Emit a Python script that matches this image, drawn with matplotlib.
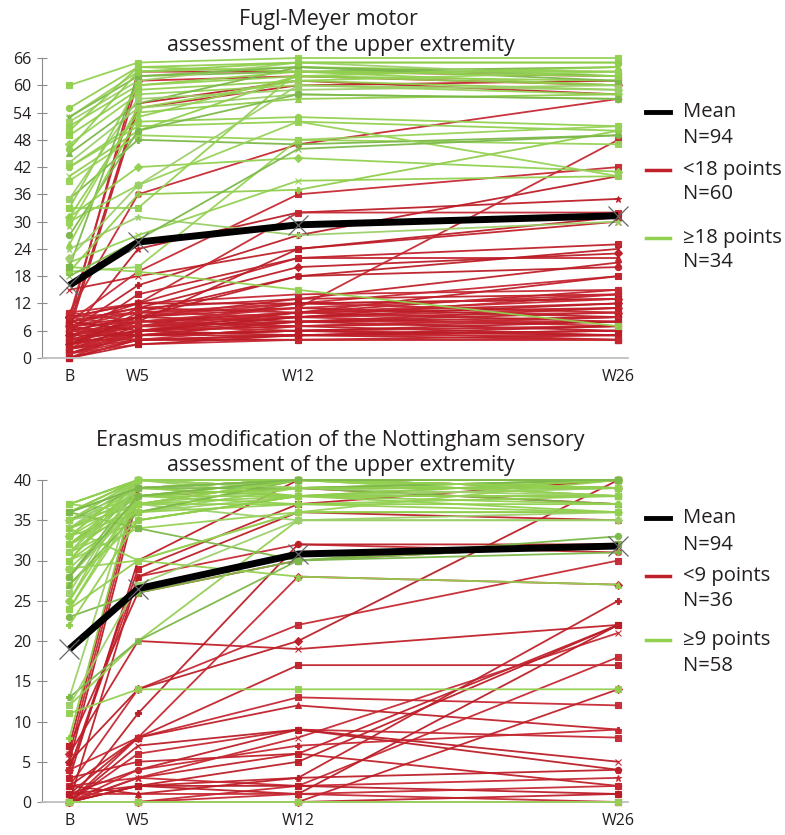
import matplotlib
matplotlib.use("Agg")
import matplotlib.pyplot as plt
from matplotlib.lines import Line2D

# ---------------- data ----------------
time_labels = ["B", "W5", "W12", "W26"]
time_weeks = [2, 5, 12, 26]

# Fugl-Meyer (0-66)
fm_red_b = [8,9,7,6,10,5,15,8,6,4, 9,3,7,2,8,5,6,4,3,7, 2,5,0,1,4,3,6,2,1,0, 8,9,7,5,6,4,3,2,1,0, 10,9,8,7,6,5,4,3,2,1, 8,7,6,5,4,9,3,2,10,0]
fm_red_w5 = [63,61,56,55,36,24,18,19,16,14, 12,11,12,10,10,9,9,8,8,8, 7,7,6,6,6,5,5,5,4,4, 11,10,9,8,7,7,6,5,5,4, 12,12,11,10,9,8,7,6,4,3, 6,5,4,5,4,7,9,6,8,3]
fm_red_w12 = [63,62,61,60,47,32,24,36,27,22, 32,20,22,11,18,13,12,24,10,9, 12,10,9,8,7,8,6,5,5,4, 13,12,11,10,9,8,7,6,6,5, 14,12,10,9,8,7,6,5,4,4, 9,8,7,6,5,10,18,10,11,5]
fm_red_w26 = [62,60,58,61,57,35,30,42,40,25, 32,23,22,48,20,21,18,31,15,14, 13,12,11,10,9,8,7,6,5,4, 14,10,9,8,7,6,5,4,5,4, 15,13,11,10,9,8,7,6,5,4, 12,11,9,8,6,13,24,18,14,7]

fm_grn_b = [60,55,53,53,52,51,50,49,47,45, 43,42,42,40,39,35,35,33,31,31, 30,27,24,21,20,19,19,20,22,25, 33,46,29,18]
fm_grn_w5 = [65,64,63,62,61,60,64,59,58,56, 55,52,51,50,49,48,57,33,42,54, 38,50,31,27,19,36,20,62,38,53, 60,63,55,26]
fm_grn_w12 = [66,65,64,63,65,62,63,61,60,64, 58,53,52,62,48,47,59,63,44,57, 52,58,27,39,15,37,48,64,60,62, 63,65,61,46]
fm_grn_w26 = [66,65,63,64,62,61,60,59,58,62, 57,51,50,60,47,49,60,63,41,58, 40,57,30,40,7,50,51,61,59,64, 62,65,63,49]

fm_mean = [16, 25.5, 29.3, 31.3]

# EmNSA (0-40)
em_red_b = [7,6,5,4,4,3,6,2,0,1, 0,5,2,0,1,0,0,0,0,0, 0,0,1,0,0,2,0,3,0,1, 0,4,0,7,0,2]
em_red_w5 = [40,39,38,29,28,30,20,14,11,8, 8,14,8,6,4,3,3,2,2,0, 2,0,1,0,0,3,7,5,4,2, 0,8,28,26,0,1]
em_red_w12 = [40,40,39,37,32,40,19,22,32,17, 13,20,12,9,9,6,8,5,3,2, 1,0,1,0,0,2,9,6,7,2, 0,28,36,30,1,3]
em_red_w26 = [40,39,37,40,31,39,22,30,32,17, 12,40,9,8,4,22,21,22,25,18, 22,14,0,0,1,3,5,2,9,1, 0,27,35,32,2,4]

em_grn_b = [37,37,36,36,35,35,34,34,33,32, 32,31,31,30,30,28,28,27,25,24, 24,23,13,12,11,8,37,36,35,34, 33,32,36,35,34,33,31,30,29,27, 26,25,37,36,35,13,12,32,33,34, 29,28,31,30,24,22,0,36]
em_grn_w5 = [40,40,40,39,40,38,39,37,40,38, 36,37,35,36,34,39,37,35,40,30, 38,26,40,20,14,40,36,34,37,30, 40,39,40,39,40,38,40,39,37,36, 40,38,40,40,40,20,27,37,36,38, 30,38,39,40,37,35,0,39]
em_grn_w12 = [40,40,40,40,39,40,38,40,39,39, 38,37,38,40,36,40,39,38,40,36, 40,30,40,35,14,40,39,30,35,28, 39,40,38,39,40,37,40,38,40,40, 39,38,40,40,40,30,35,38,37,39, 36,40,40,40,40,38,0,40]
em_grn_w26 = [40,40,40,39,40,38,39,38,40,37, 39,38,36,40,36,40,39,38,40,36, 38,33,40,35,14,40,39,32,35,27, 40,39,38,40,39,37,40,40,39,40, 38,37,40,40,40,31,36,38,36,39, 40,40,40,39,40,40,0,40]

em_mean = [19, 26.5, 30.8, 31.8]

# ---------------- style ----------------
FONT = ["Open Sans", "DejaVu Sans"]
plt.rcParams["font.family"] = FONT
TXT = "#231f20"
RED = ["#c0202a", "#c62832", "#bb1d27"]
GREEN = ["#92d050", "#8fcd4c", "#96d256", "#7cb84a", "#9ccf6a", "#92d050"]
MARKERS = ["s", "D", "^", "s", "o", "*", "x", "s", "P", "s"]

W, H = 785, 835
fig = plt.figure(figsize=(W / 100, H / 100), dpi=100)


def px_axes(x0, y0, x1, y1):
    return fig.add_axes([x0 / W, 1 - y1 / H, (x1 - x0) / W, (y1 - y0) / H])


def draw_panel(ax, red_cols, grn_cols, mean, ymax, ystep):
    reds = list(zip(*red_cols))
    grns = list(zip(*grn_cols))
    for i, vals in enumerate(reds):
        ax.plot(time_weeks, vals, color=RED[i % len(RED)], lw=1.3,
                marker=MARKERS[i % len(MARKERS)], ms=4.5, mew=0.8,
                clip_on=False, zorder=2, alpha=0.95)
    for i, vals in enumerate(grns):
        ax.plot(time_weeks, vals, color=GREEN[i % len(GREEN)], lw=1.3,
                marker=MARKERS[(i + 3) % len(MARKERS)], ms=4.5, mew=0.8,
                clip_on=False, zorder=3, alpha=0.95)
    ax.plot(time_weeks, mean, color="black", lw=5, zorder=5,
            solid_capstyle="butt", clip_on=False)
    ax.plot(time_weeks, mean, ls="none", marker="x", ms=15, mew=0.9,
            color="#666666", zorder=6, clip_on=False)
    ax.set_xlim(0.8, 26.43)
    ax.set_ylim(0, ymax)
    ax.set_yticks(range(0, ymax + 1, ystep))
    ax.set_xticks(time_weeks)
    ax.set_xticklabels(time_labels)
    for s in ["top", "right"]:
        ax.spines[s].set_visible(False)
    ax.spines["left"].set_color("#8c8c8c")
    ax.spines["bottom"].set_color("#bfbfbf")
    ax.spines["bottom"].set_linewidth(1.3)
    ax.tick_params(axis="y", direction="inout", length=7, color="#8c8c8c",
                   labelsize=11.5, labelcolor=TXT, pad=4)
    ax.tick_params(axis="x", length=0, labelsize=11.5, labelcolor=TXT, pad=8)
    ax.set_facecolor("none")


ax1 = px_axes(42, 58, 628, 358)
draw_panel(ax1, [fm_red_b, fm_red_w5, fm_red_w12, fm_red_w26],
           [fm_grn_b, fm_grn_w5, fm_grn_w12, fm_grn_w26], fm_mean, 66, 6)

ax2 = px_axes(42, 480, 628, 802)
draw_panel(ax2, [em_red_b, em_red_w5, em_red_w12, em_red_w26],
           [em_grn_b, em_grn_w5, em_grn_w12, em_grn_w26], em_mean, 40, 5)

# titles
TS = 15.4
LS = 14.6
fig.text(328 / W, 1 - 20 / H, "Fugl-Meyer motor", ha="center", va="center",
         fontsize=TS, color=TXT)
fig.text(341 / W, 1 - 45 / H, "assessment of the upper extremity", ha="center",
         va="center", fontsize=TS, color=TXT)
fig.text(340 / W, 1 - 440 / H, "Erasmus modification of the Nottingham sensory",
         ha="center", va="center", fontsize=TS, color=TXT)
fig.text(341 / W, 1 - 466 / H, "assessment of the upper extremity", ha="center",
         va="center", fontsize=TS, color=TXT)


# legends
def legend_entry(y_line, color, l1, l2, y2):
    fig.add_artist(Line2D([646 / W, 670 / W], [1 - y_line / H, 1 - y_line / H],
                          color=color, lw=3.5 if color == "black" else 2.5,
                          transform=fig.transFigure))
    fig.text(683 / W, 1 - y_line / H, l1, ha="left", va="center",
             fontsize=LS, color=TXT)
    fig.text(683 / W, 1 - y2 / H, l2, ha="left", va="center",
             fontsize=LS, color=TXT)


legend_entry(112, "black", "Mean", "N=94", 138)
legend_entry(170, RED[0], "<18 points", "N=60", 194)
legend_entry(238, GREEN[0], "\u226518 points", "N=34", 262)

legend_entry(518, "black", "Mean", "N=94", 545)
legend_entry(576, RED[0], "<9 points", "N=36", 601)
legend_entry(640, GREEN[0], "\u22659 points", "N=58", 666)

fig.savefig("out.png", dpi=100)
